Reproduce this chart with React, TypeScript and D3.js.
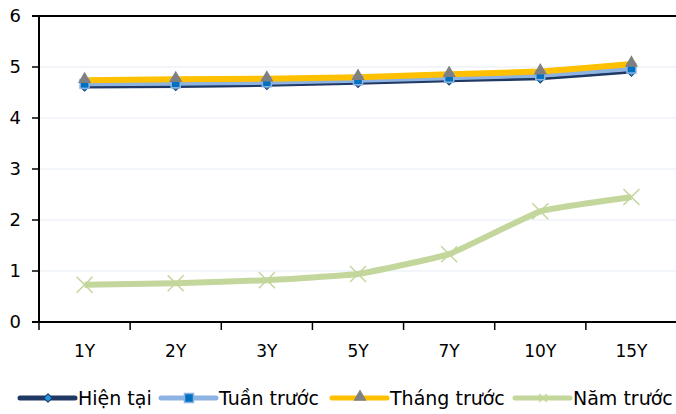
import * as d3 from 'd3'

const categories = ['1Y', '2Y', '3Y', '5Y', '7Y', '10Y', '15Y']
const hienTai = [4.61, 4.62, 4.64, 4.68, 4.73, 4.77, 4.90]
const tuanTruoc = [4.67, 4.68, 4.70, 4.74, 4.79, 4.84, 4.97]
const thangTruoc = [4.74, 4.76, 4.77, 4.80, 4.86, 4.91, 5.06]
const namTruoc = [0.73, 0.76, 0.82, 0.94, 1.33, 2.17, 2.45]
const yTicks = [0, 1, 2, 3, 4, 5, 6]

const W = 676
const H = 414
const font = '"DejaVu Sans", Verdana, sans-serif'

export default function App() {
  const x = d3.scaleBand().domain(categories).range([39, 677]).padding(0)
  const y = d3.scaleLinear().domain([0, 6]).range([322, 16])
  const cx = (c: string) => (x(c) ?? 0) + x.bandwidth() / 2

  const line = d3.line<number>()
    .x((_, i) => cx(categories[i]))
    .y(d => y(d))
    .curve(d3.curveCardinal.tension(0.7))

  const marker = (kind: string, px: number, py: number, key: string, s = 1) => {
    if (kind === 'diamond')
      return <rect key={key} x={px - 3 * s} y={py - 3 * s} width={6 * s} height={6 * s} transform={`rotate(45 ${px} ${py})`}
        fill="#1E9BE0" stroke="#1F3864" strokeWidth={1} />
    if (kind === 'square')
      return <rect key={key} x={px - 4.5 * s} y={py - 4.5 * s} width={9 * s} height={9 * s} fill="#0070C0" stroke="#8DB3E2" strokeWidth={1.5} />
    if (kind === 'tri') {
      const tri = d3.symbol().type(d3.symbolTriangle).size(75 * s * s)()
      return <path key={key} d={tri!} transform={`translate(${px},${py - 1})`} fill="#808080" />
    }
    const r = 8 * s
    return <path key={key} d={`M${px - r},${py - r}L${px + r},${py + r}M${px - r},${py + r}L${px + r},${py - r}`}
      stroke="#C3D69B" strokeWidth={1.5} fill="none" />
  }

  const series = [
    { name: 'Hiện tại', data: hienTai, color: '#1F3864', w: 3, lw: 5, mark: 'diamond', lx: 20 },
    { name: 'Tuần trước', data: tuanTruoc, color: '#8DB3E2', w: 5, lw: 5, mark: 'square', lx: 161 },
    { name: 'Tháng trước', data: thangTruoc, color: '#FFC000', w: 6, lw: 5, mark: 'tri', lx: 332 },
    { name: 'Năm trước', data: namTruoc, color: '#C3D69B', w: 6, lw: 5, mark: 'x', lx: 515 },
  ]

  return (
    <svg width={W} height={H} style={{ position: 'absolute', left: 0, top: 0, background: '#fff' }}
      fontFamily={font}>
      {/* gridlines */}
      {yTicks.slice(1, -1).map(t => (
        <line key={t} x1={39} x2={W} y1={y(t)} y2={y(t)} stroke="#EEF3FA" strokeWidth={1.5} />
      ))}
      {/* y axis */}
      <line x1={39} x2={39} y1={15} y2={323} stroke="#000" strokeWidth={2} />
      <line x1={32} x2={W} y1={16} y2={16} stroke="#000" strokeWidth={2} />
      {yTicks.map(t => (
        <g key={t}>
          <line x1={32} x2={39} y1={y(t)} y2={y(t)} stroke="#000" strokeWidth={1.5} />
          <text x={21} y={y(t)} dy="0.36em" textAnchor="end" fontSize={18} fill="#000">{t}</text>
        </g>
      ))}
      {/* x axis */}
      <line x1={32} x2={W} y1={322} y2={322} stroke="#000" strokeWidth={2} />
      {categories.map(c => (
        <g key={c}>
          <line x1={x(c)} x2={x(c)} y1={322} y2={330} stroke="#000" strokeWidth={1.5} />
          <text x={cx(c)} y={351} dy="0.36em" textAnchor="middle" fontSize={17} fill="#000">{c}</text>
        </g>
      ))}
      {/* series */}
      {series.map((s, i) => (
        <path key={i} d={line(s.data)!} fill="none" stroke={s.color} strokeWidth={s.w} strokeLinejoin="round" />
      ))}
      {series.map((s, i) => s.data.map((v, j) => marker(s.mark, cx(categories[j]), y(v), `${i}-${j}`)))}
      {/* legend */}
      {series.map(l => (
        <g key={l.name}>
          <line x1={l.lx} x2={l.lx + 55} y1={398} y2={398} stroke={l.color} strokeWidth={l.lw} strokeLinecap="round" />
          {marker(l.mark, l.lx + 28, 398, 'm' + l.name, l.mark === 'x' ? 0.5 : 1)}
          <text x={l.lx + 58} y={398} dy="0.36em" fontSize={19} fill="#000">{l.name}</text>
        </g>
      ))}
    </svg>
  )
}
